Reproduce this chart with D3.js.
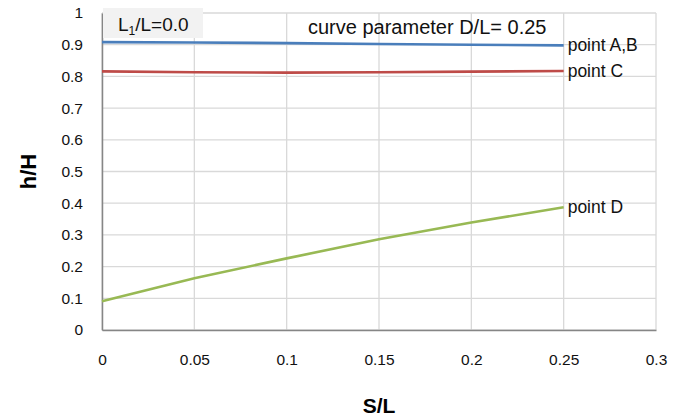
<!DOCTYPE html>
<html>
<head>
<meta charset="utf-8">
<script src="https://cdn.jsdelivr.net/npm/d3@7"></script>
<style>
  body { margin: 0; background: #fff; }
  svg { display: block; font-family: "Liberation Sans", Arial, sans-serif; }
</style>
</head>
<body>
<svg id="chart"></svg>
<script>
// values
const sValues = [0, 0.05, 0.1, 0.15, 0.2, 0.25];
const pointAB = [0.908, 0.907, 0.905, 0.902, 0.900, 0.898];
const pointC  = [0.816, 0.813, 0.812, 0.813, 0.815, 0.817];
const pointD  = [0.091, 0.163, 0.226, 0.286, 0.339, 0.387];
const xTicks = [0, 0.05, 0.1, 0.15, 0.2, 0.25, 0.3];
const yTicks = [0, 0.1, 0.2, 0.3, 0.4, 0.5, 0.6, 0.7, 0.8, 0.9, 1];

const series = [
  { name: 'point A,B', values: pointAB, color: '#4a7ebb' },
  { name: 'point C', values: pointC, color: '#be4b48' },
  { name: 'point D', values: pointD, color: '#98b954' }
];

const width = 683, height = 419;
const margin = { top: 13, right: 27, bottom: 89, left: 102 };

const svg = d3.select('#chart').attr('width', width).attr('height', height);

const x = d3.scaleLinear().domain([0, 0.3]).range([margin.left, width - margin.right]);
const y = d3.scaleLinear().domain([0, 1]).range([height - margin.bottom, margin.top]);

// grid
svg.append('g')
  .selectAll('line.h')
  .data(yTicks)
  .join('line')
  .attr('x1', x(0)).attr('x2', x(0.3))
  .attr('y1', d => y(d)).attr('y2', d => y(d))
  .attr('stroke', '#d9d9d9').attr('stroke-width', 1.3);

svg.append('g')
  .selectAll('line.v')
  .data(xTicks)
  .join('line')
  .attr('y1', y(0)).attr('y2', y(1))
  .attr('x1', d => x(d)).attr('x2', d => x(d))
  .attr('stroke', '#d9d9d9').attr('stroke-width', 1.3);

// axes
const xAxis = svg.append('g')
  .attr('transform', `translate(0,${y(0)})`)
  .call(d3.axisBottom(x).tickValues(xTicks).tickSize(0).tickPadding(24).tickFormat(d3.format('')));
const yAxis = svg.append('g')
  .attr('transform', `translate(${x(0)},0)`)
  .call(d3.axisLeft(y).tickValues(yTicks).tickSize(0).tickPadding(19).tickFormat(d3.format('')));

[xAxis, yAxis].forEach(a => {
  a.select('.domain').attr('stroke', '#868686').attr('stroke-width', 1.5);
  a.selectAll('text').attr('font-size', 15.5).attr('fill', '#111')
    .attr('font-family', '"Liberation Sans", Arial, sans-serif');
});

// axis titles
svg.append('text')
  .attr('x', x(0.15)).attr('y', 413)
  .attr('text-anchor', 'middle')
  .attr('font-size', 21).attr('font-weight', 'bold')
  .text('S/L');

svg.append('text')
  .attr('transform', `translate(36,${y(0.5)}) rotate(-90)`)
  .attr('text-anchor', 'middle')
  .attr('font-size', 22).attr('font-weight', 'bold')
  .text('h/H');

// lines
const line = d3.line()
  .x((d, i) => x(sValues[i]))
  .y(d => y(d));

svg.append('g')
  .selectAll('path')
  .data(series)
  .join('path')
  .attr('d', d => line(d.values))
  .attr('fill', 'none')
  .attr('stroke', d => d.color)
  .attr('stroke-width', 2.6);

svg.append('g')
  .selectAll('text')
  .data(series)
  .join('text')
  .attr('x', x(0.25) + 4)
  .attr('y', d => y(d.values[d.values.length - 1]))
  .attr('dy', '0.35em')
  .attr('font-size', 17.5)
  .attr('fill', '#111')
  .text(d => d.name);

// L1/L box
svg.append('rect')
  .attr('x', 103).attr('y', 8).attr('width', 100).attr('height', 30)
  .attr('fill', '#f2f2f2');

const lbl = svg.append('text')
  .attr('x', 118).attr('y', 31)
  .attr('font-size', 19).attr('fill', '#111');
lbl.append('tspan').text('L');
lbl.append('tspan').attr('font-size', 12).attr('dy', 4).text('1');
lbl.append('tspan').attr('dy', -4).text('/L=0.0');

svg.append('text')
  .attr('x', 308).attr('y', 34)
  .attr('font-size', 20).attr('fill', '#111')
  .text('curve parameter  D/L= 0.25');
</script>
</body>
</html>
